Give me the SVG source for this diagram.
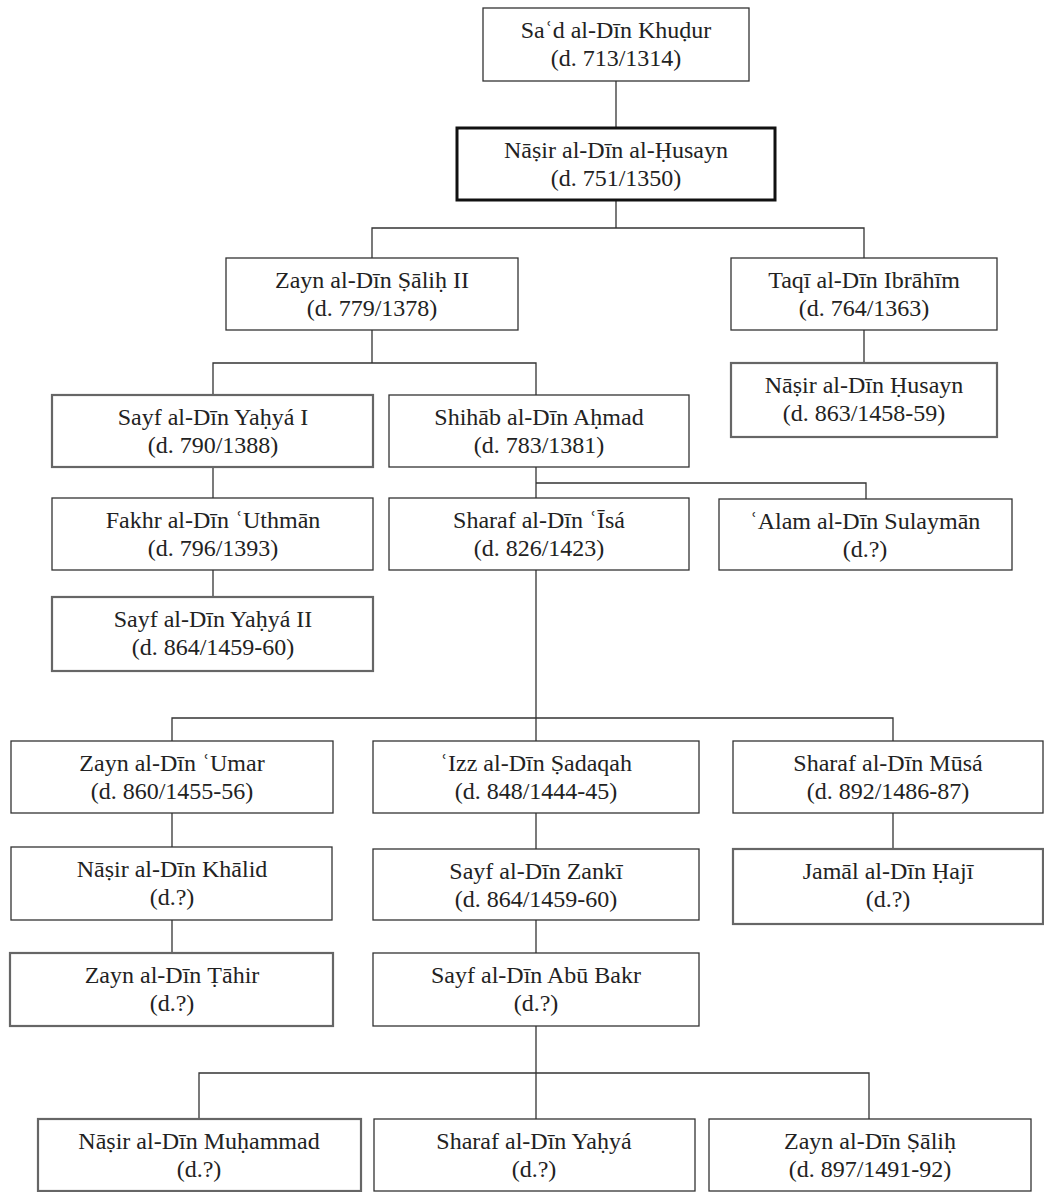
<svg xmlns="http://www.w3.org/2000/svg" width="1044" height="1192" viewBox="0 0 1044 1192">
<style>
.bg{fill:#fff}
.box{fill:#fff;stroke:#333;stroke-width:1.3}
.gray{fill:#fff;stroke:#666;stroke-width:2.2}
.thick{fill:#fff;stroke:#111;stroke-width:3}
.t{font-family:'Liberation Serif','DejaVu Serif',serif;font-size:24px;fill:#222;text-anchor:middle}
.c{fill:none;stroke:#333;stroke-width:1.3}
</style>
<rect class="bg" x="0" y="0" width="1044" height="1192"/>
<g id="connectors" class="c">
<path d="M616 81V128"/>
<path d="M616 200V228M372 258V228H864V258"/>
<path d="M864 330V363"/>
<path d="M372 330V363M213 395V363H536V395"/>
<path d="M213 467V498"/>
<path d="M213 570V597"/>
<path d="M536 467V498"/>
<path d="M536 483H866V499"/>
<path d="M536 570V718M172 741V718H893V741M536 718V741"/>
<path d="M172 813V847"/>
<path d="M172 920V953"/>
<path d="M536 813V849"/>
<path d="M536 920V953"/>
<path d="M893 813V849"/>
<path d="M536 1026V1073M199 1119V1073H869V1119M536 1073V1119"/>
</g>
<g id="n1"><rect class="box" x="483" y="8" width="266" height="73"/><text class="t" x="616" y="38">Saʿd al-Dīn Khuḍur</text><text class="t" x="616" y="66">(d. 713/1314)</text></g>
<g id="n2"><rect class="thick" x="457" y="128" width="318" height="72"/><text class="t" x="616" y="158">Nāṣir al-Dīn al-Ḥusayn</text><text class="t" x="616" y="186">(d. 751/1350)</text></g>
<g id="n3"><rect class="box" x="226" y="258" width="292" height="72"/><text class="t" x="372" y="288">Zayn al-Dīn Ṣāliḥ II</text><text class="t" x="372" y="316">(d. 779/1378)</text></g>
<g id="n4"><rect class="box" x="731" y="258" width="266" height="72"/><text class="t" x="864" y="288">Taqī al-Dīn Ibrāhīm</text><text class="t" x="864" y="316">(d. 764/1363)</text></g>
<g id="n5"><rect class="gray" x="731" y="363" width="266" height="74"/><text class="t" x="864" y="393">Nāṣir al-Dīn Ḥusayn</text><text class="t" x="864" y="421">(d. 863/1458-59)</text></g>
<g id="n6"><rect class="gray" x="52" y="395" width="321" height="72"/><text class="t" x="213" y="425">Sayf al-Dīn Yaḥyá I</text><text class="t" x="213" y="453">(d. 790/1388)</text></g>
<g id="n7"><rect class="box" x="389" y="395" width="300" height="72"/><text class="t" x="539" y="425">Shihāb al-Dīn Aḥmad</text><text class="t" x="539" y="453">(d. 783/1381)</text></g>
<g id="n8"><rect class="box" x="52" y="498" width="321" height="72"/><text class="t" x="213" y="528">Fakhr al-Dīn ʿUthmān</text><text class="t" x="213" y="556">(d. 796/1393)</text></g>
<g id="n9"><rect class="box" x="389" y="498" width="300" height="72"/><text class="t" x="539" y="528">Sharaf al-Dīn ʿĪsá</text><text class="t" x="539" y="556">(d. 826/1423)</text></g>
<g id="n10"><rect class="box" x="719" y="499" width="293" height="71"/><text class="t" x="865" y="529">ʿAlam al-Dīn Sulaymān</text><text class="t" x="865" y="557">(d.?)</text></g>
<g id="n11"><rect class="gray" x="52" y="597" width="321" height="74"/><text class="t" x="213" y="627">Sayf al-Dīn Yaḥyá II</text><text class="t" x="213" y="655">(d. 864/1459-60)</text></g>
<g id="n12"><rect class="box" x="11" y="741" width="322" height="72"/><text class="t" x="172" y="771">Zayn al-Dīn ʿUmar</text><text class="t" x="172" y="799">(d. 860/1455-56)</text></g>
<g id="n13"><rect class="box" x="373" y="741" width="326" height="72"/><text class="t" x="536" y="771">ʿIzz al-Dīn Ṣadaqah</text><text class="t" x="536" y="799">(d. 848/1444-45)</text></g>
<g id="n14"><rect class="box" x="733" y="741" width="310" height="72"/><text class="t" x="888" y="771">Sharaf al-Dīn Mūsá</text><text class="t" x="888" y="799">(d. 892/1486-87)</text></g>
<g id="n15"><rect class="box" x="11" y="847" width="321" height="73"/><text class="t" x="172" y="877">Nāṣir al-Dīn Khālid</text><text class="t" x="172" y="905">(d.?)</text></g>
<g id="n16"><rect class="box" x="373" y="849" width="326" height="71"/><text class="t" x="536" y="879">Sayf al-Dīn Zankī</text><text class="t" x="536" y="907">(d. 864/1459-60)</text></g>
<g id="n17"><rect class="gray" x="733" y="849" width="310" height="75"/><text class="t" x="888" y="879">Jamāl al-Dīn Ḥajī</text><text class="t" x="888" y="907">(d.?)</text></g>
<g id="n18"><rect class="gray" x="10" y="953" width="323" height="73"/><text class="t" x="172" y="983">Zayn al-Dīn Ṭāhir</text><text class="t" x="172" y="1011">(d.?)</text></g>
<g id="n19"><rect class="box" x="373" y="953" width="326" height="73"/><text class="t" x="536" y="983">Sayf al-Dīn Abū Bakr</text><text class="t" x="536" y="1011">(d.?)</text></g>
<g id="n20"><rect class="gray" x="38" y="1119" width="323" height="72"/><text class="t" x="199" y="1149">Nāṣir al-Dīn Muḥammad</text><text class="t" x="199" y="1177">(d.?)</text></g>
<g id="n21"><rect class="box" x="374" y="1119" width="321" height="72"/><text class="t" x="534" y="1149">Sharaf al-Dīn Yaḥyá</text><text class="t" x="534" y="1177">(d.?)</text></g>
<g id="n22"><rect class="box" x="709" y="1119" width="322" height="72"/><text class="t" x="870" y="1149">Zayn al-Dīn Ṣāliḥ</text><text class="t" x="870" y="1177">(d. 897/1491-92)</text></g>
</svg>
